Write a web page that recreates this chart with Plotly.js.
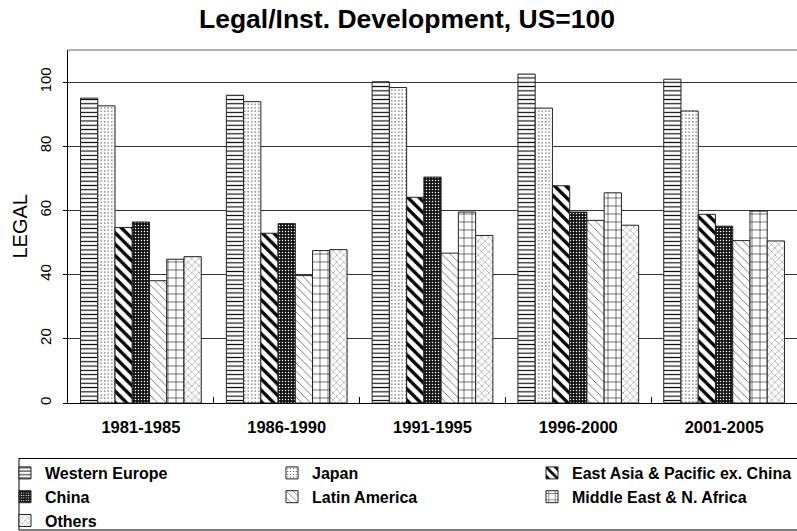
<!DOCTYPE html>
<html>
<head>
<meta charset="utf-8">
<script src="https://cdn.plot.ly/plotly-3.0.1.min.js"></script>
<style>html,body{margin:0;padding:0;background:#fff;}#chart{width:797px;height:531px;}</style>
</head>
<body>
<div id="chart"></div>
<script>
const periods = ['1981-1985', '1986-1990', '1991-1995', '1996-2000', '2001-2005'];
const seriesNames = ['Western Europe', 'Japan', 'East Asia & Pacific ex. China', 'China', 'Latin America', 'Middle East & N. Africa', 'Others'];
const westernEurope = [95.0, 95.9, 100.1, 102.5, 100.9];
const japan = [92.6, 93.9, 98.3, 91.9, 91.0];
const eastAsiaPacific = [54.7, 52.9, 64.1, 67.7, 58.8];
const china = [56.4, 55.9, 70.4, 59.5, 55.1];
const latinAmerica = [38.1, 39.7, 46.7, 56.9, 50.6];
const middleEastNAfrica = [44.8, 47.5, 59.5, 65.5, 59.8];
const others = [45.6, 47.8, 52.2, 55.4, 50.5];
const yTicks = [0, 20, 40, 60, 80, 100];
const yAxisTitle = 'LEGAL';

const values = [westernEurope, japan, eastAsiaPacific, china, latinAmerica, middleEastNAfrica, others];
const patterns = [
  {shape: '-', size: 4.3, solidity: 0.26, fgcolor: '#000', bgcolor: '#fff'},
  {shape: '.', size: 3.5, solidity: 0.12, fgcolor: '#222', bgcolor: '#fff'},
  {shape: '\\', size: 8, solidity: 0.42, fgcolor: '#000', bgcolor: '#fff'},
  {shape: '.', size: 3, solidity: 0.2, fgcolor: '#fff', bgcolor: '#111'},
  {shape: '\\', size: 6, solidity: 0.12, fgcolor: '#444', bgcolor: '#fff'},
  {shape: '+', size: 8, solidity: 0.13, fgcolor: '#000', bgcolor: '#fff'},
  {shape: 'x', size: 5, solidity: 0.12, fgcolor: '#333', bgcolor: '#fff'}
];
const legendIds = ['legend', 'legend2', 'legend3', 'legend', 'legend2', 'legend3', 'legend'];

const traces = seriesNames.map((name, i) => ({
  type: 'bar',
  name: name,
  x: periods,
  y: values[i],
  legend: legendIds[i],
  marker: {color: '#fff', pattern: patterns[i], line: {color: '#222', width: 1}},
  hoverinfo: 'x+y+name'
}));

const legendFont = {family: 'Liberation Sans, Arial, sans-serif', size: 16, color: '#000', weight: 'bold'};
function legendAt(leftPx) {
  return {
    x: leftPx / 797, xref: 'container', xanchor: 'left',
    y: 1 - 456 / 531, yref: 'container', yanchor: 'top',
    orientation: 'v', bgcolor: 'rgba(0,0,0,0)', borderwidth: 0,
    font: legendFont, itemclick: false, itemdoubleclick: false, tracegroupgap: 0
  };
}

const layout = {
  width: 797, height: 531,
  margin: {l: 68, r: 0, t: 50, b: 128, autoexpand: false},
  paper_bgcolor: '#fff', plot_bgcolor: '#fff',
  font: {family: 'Liberation Sans, Arial, sans-serif', color: '#000'},
  title: {
    text: '<b>Legal/Inst. Development, US=100</b>',
    font: {size: 26.5, color: '#000'},
    x: 407 / 797, xref: 'container', xanchor: 'center',
    y: 1 - 19 / 531, yref: 'container', yanchor: 'middle'
  },
  barmode: 'group', bargap: 0.172, bargroupgap: 0,
  xaxis: {
    type: 'category',
    showline: true, linecolor: '#000', linewidth: 1,
    ticks: 'inside', tickson: 'boundaries', ticklen: 6, tickcolor: '#000',
    tickfont: {size: 16.5, weight: 'bold'}, tickangle: 0,
    ticklabelstandoff: 9,
    showgrid: false, zeroline: false, fixedrange: true
  },
  yaxis: {
    range: [0, 110], tickvals: yTicks, ticktext: yTicks.map(String),
    tickangle: -90, tickfont: {size: 15},
    ticks: 'outside', ticklen: 4, tickcolor: '#000',
    ticklabelstandoff: 6,
    showline: true, linecolor: '#000', linewidth: 1,
    showgrid: true, gridcolor: '#333', gridwidth: 1,
    zeroline: false, fixedrange: true
  },
  annotations: [
    {text: yAxisTitle, xref: 'paper', yref: 'paper',
     x: (19 - 68) / 729, y: (403 - 226.5) / 353,
     xanchor: 'center', yanchor: 'middle', textangle: -90, showarrow: false,
     font: {size: 20, color: '#000'}}
  ],
  legend: legendAt(5),
  legend2: legendAt(272),
  legend3: legendAt(532),
  shapes: [
    {type: 'line', xref: 'paper', yref: 'paper', x0: 0, x1: 1, y0: 1, y1: 1, line: {color: '#999', width: 1.5}},
    {type: 'rect', xref: 'paper', yref: 'paper',
     x0: (19 - 68) / 729, x1: (800 - 68) / 729,
     y0: (403 - 530) / 353, y1: (403 - 458.5) / 353,
     line: {color: '#000', width: 1}, fillcolor: 'rgba(0,0,0,0)', layer: 'above'}
  ]
};

Plotly.newPlot('chart', traces, layout, {displayModeBar: false, staticPlot: true});
</script>
</body>
</html>
